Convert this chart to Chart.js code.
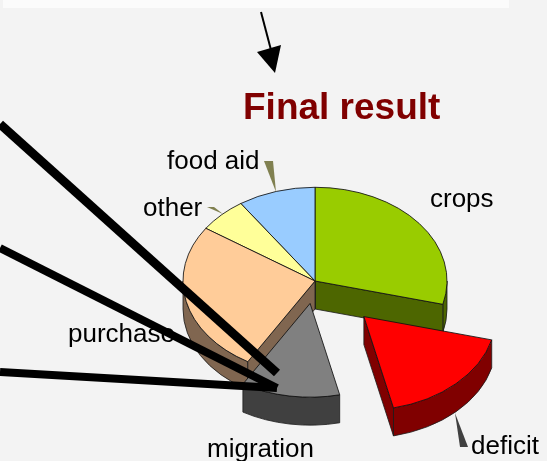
<!DOCTYPE html>
<html><head><meta charset="utf-8">
<style>html,body{margin:0;padding:0;background:#f3f3f3}canvas{display:block}</style>
<script src="https://cdn.jsdelivr.net/npm/chart.js@4"></script></head>
<body><canvas id="c" width="547" height="461"></canvas>
<script>
const categories=['crops','deficit','migration','purchase','other','food aid'];
const shares=[29,17.4,12.1,26,6,9.5];
const explodePx=[0,70,32,0,0,0];
const topColors=['#99CC00','#FF0000','#808080','#FFCC99','#FFFF99','#99CCFF'];
const wallColors=['#4D6600','#800000','#404040','#806650','#808050','#4D6680'];
const chartTitle='Final result';
const TILT=0.71, DEPTH=28, RADIUS=132;
const drawOrder=[0,5,4,3,2,1];
const labelSpots=[[430,207],[471,454],[207,457],[68,342],[143,216],[167,169]];

function tri(ctx,p,col){ctx.fillStyle=col;ctx.beginPath();ctx.moveTo(p[0],p[1]);ctx.lineTo(p[2],p[3]);ctx.lineTo(p[4],p[5]);ctx.closePath();ctx.fill();}
function bar(ctx,x0,y0,x1,y1,w){ctx.strokeStyle='#000';ctx.lineWidth=w;ctx.lineCap='butt';ctx.beginPath();ctx.moveTo(x0,y0);ctx.lineTo(x1,y1);ctx.stroke();}

const pie3d={id:'pie3d',
 beforeDraw(chart){const c=chart.ctx;c.save();c.fillStyle='#f3f3f3';c.fillRect(0,0,547,461);c.fillStyle='#fbfbfb';c.fillRect(3,0,506,8);c.restore();},
 beforeDatasetsDraw(chart){
  const c=chart.ctx,arcs=chart.getDatasetMeta(0).data;
  drawOrder.forEach(i=>{
   const a=arcs[i],s=a.startAngle,e=a.endAngle,m=(s+e)/2,r=a.outerRadius;
   const cx=a.x+Math.cos(m)*explodePx[i],cy=a.y+Math.sin(m)*explodePx[i]*TILT;
   const pt=t=>[cx+r*Math.cos(t),cy+r*Math.sin(t)*TILT];
   c.save();c.fillStyle=wallColors[i];c.strokeStyle='#1a1a1a';c.lineWidth=0.8;c.lineJoin='round';
   const radial=t=>{const p=pt(t);c.beginPath();c.moveTo(cx,cy);c.lineTo(p[0],p[1]);c.lineTo(p[0],p[1]+DEPTH);c.lineTo(cx,cy+DEPTH);c.closePath();c.fill();c.stroke();};
   const a0=Math.max(s,0),a1=Math.min(e,Math.PI);
   if(a1>a0){c.beginPath();c.ellipse(cx,cy,r,r*TILT,0,a0,a1);c.ellipse(cx,cy+DEPTH,r,r*TILT,0,a1,a0,true);c.closePath();c.fill();c.stroke();}
   if(Math.sin(s-Math.PI/2)>0)radial(s);
   if(Math.sin(e+Math.PI/2)>0)radial(e);
   c.restore();
   c.save();c.translate(cx,cy);c.scale(1,TILT);c.translate(-a.x,-a.y);a.draw(c);c.restore();
  });
  return false;
 },
 afterDraw(chart){
  const c=chart.ctx;c.save();
  tri(c,[264,161,273,161,276,192],'#808050');
  tri(c,[207,207,214,207,223,214],'#808050');
  tri(c,[455,413,468,447,460,447],'#404040');
  c.fillStyle='#000';c.font='26px "Liberation Sans"';c.textBaseline='alphabetic';
  categories.forEach((t,i)=>c.fillText(t,labelSpots[i][0],labelSpots[i][1]));
  c.fillStyle='#800000';c.font='bold 37px "Liberation Sans"';c.fillText(chartTitle,243,119);
  bar(c,0,124,277,373,9);bar(c,0,248,277,388,8);bar(c,0,372,277,388,8);
  bar(c,261,12,271,50,2);tri(c,[257,52,281,45,275,73],'#000');
  c.restore();
 }};
new Chart(document.getElementById('c'),{type:'pie',
 data:{labels:categories,datasets:[{data:shares,backgroundColor:topColors,borderColor:'#111',borderWidth:1,borderAlign:'center'}]},
 options:{responsive:false,animation:false,radius:RADIUS,layout:{padding:{left:83,top:101}},
  plugins:{legend:{display:false},tooltip:{enabled:false},title:{display:false}}},
 plugins:[pie3d]});
</script></body></html>
